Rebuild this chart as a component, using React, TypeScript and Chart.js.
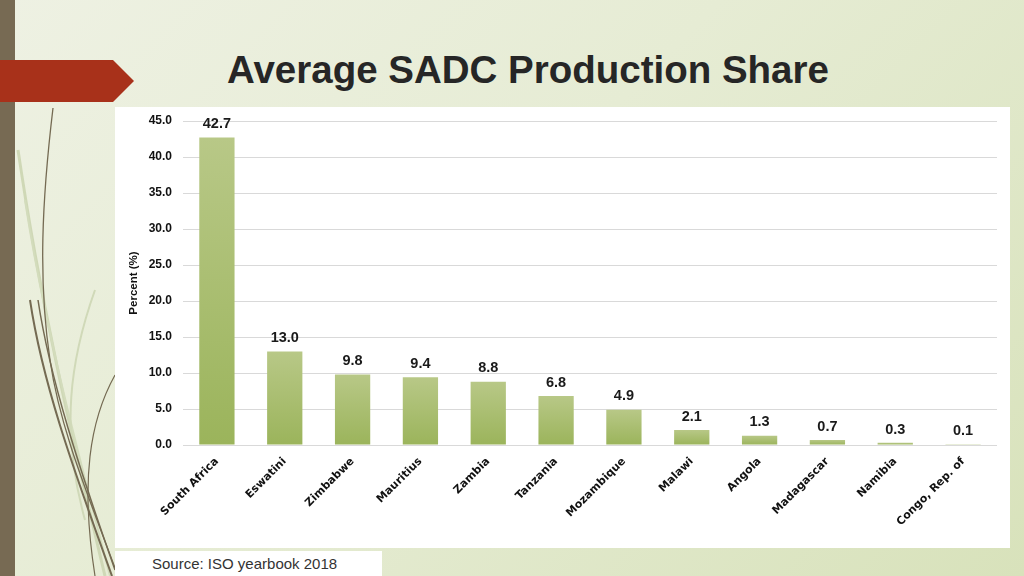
import React, { useEffect, useRef } from "react";
import { Chart, registerables } from "chart.js";

Chart.register(...registerables);

const countries = [
  "South Africa", "Eswatini", "Zimbabwe", "Mauritius", "Zambia", "Tanzania",
  "Mozambique", "Malawi", "Angola", "Madagascar", "Namibia", "Congo, Rep. of",
];
const shares = [42.7, 13.0, 9.8, 9.4, 8.8, 6.8, 4.9, 2.1, 1.3, 0.7, 0.3, 0.1];
const yTicks = [0, 5, 10, 15, 20, 25, 30, 35, 40, 45];
const titleText = "Average SADC Production Share";
const yTitle = "Percent (%)";
const sourceText = "Source: ISO yearbook 2018";

const valueLabels = {
  id: "valueLabels",
  afterDatasetsDraw(chart: any) {
    const ctx = chart.ctx;
    const meta = chart.getDatasetMeta(0);
    ctx.save();
    ctx.font = "bold 14.5px 'Liberation Sans', Arial, sans-serif";
    ctx.fillStyle = "#1a1a1a";
    ctx.textAlign = "center";
    ctx.textBaseline = "bottom";
    meta.data.forEach((bar: any, i: number) => {
      ctx.fillText(shares[i].toFixed(1), bar.x, bar.y - 6);
    });
    ctx.restore();
  },
};

function ChartBox() {
  const ref = useRef<HTMLCanvasElement>(null);
  useEffect(() => {
    if (!ref.current) return;
    const chart = new Chart(ref.current, {
      type: "bar",
      data: {
        labels: countries,
        datasets: [
          {
            data: shares,
            barPercentage: 0.52,
            categoryPercentage: 1,
            backgroundColor: (c: any) => {
              const ch = c.chart;
              const ys = ch.scales?.y;
              if (!ch.chartArea || !ys || c.parsed == null) return "#a8bd6e";
              const top = ys.getPixelForValue(c.parsed.y);
              const bottom = ys.getPixelForValue(0);
              if (!isFinite(top) || bottom - top < 1) return "#a8bd6e";
              const g = ch.ctx.createLinearGradient(0, top, 0, bottom);
              g.addColorStop(0, "#b8c887");
              g.addColorStop(1, "#9bb45b");
              return g;
            },
            borderWidth: 0,
          },
        ],
      },
      options: {
        animation: false,
        responsive: false,
        maintainAspectRatio: false,
        layout: { padding: { top: 14, right: 13, left: 12, bottom: 0 } },
        plugins: {
          legend: { display: false },
          tooltip: { enabled: false },
        },
        scales: {
          x: {
            grid: { display: false },
            border: { display: false },
            ticks: {
              maxRotation: 45,
              minRotation: 45,
              autoSkip: false,
              color: "#111",
              padding: 2,
              font: { family: "'DejaVu Sans', sans-serif", weight: "bold", size: 11 },
            },
            afterFit: (s: any) => {
              s.height = 103;
            },
          },
          y: {
            min: 0,
            max: 45,
            afterBuildTicks: (s: any) => {
              s.ticks = yTicks.map((v) => ({ value: v }));
            },
            grid: { color: "#d9d9d9", drawTicks: false, lineWidth: 1 },
            border: { display: false },
            ticks: {
              color: "#111",
              padding: 11,
              font: { family: "'Liberation Sans', Arial, sans-serif", weight: "bold", size: 12 },
              callback: (v: any) => Number(v).toFixed(1),
            },
            title: {
              display: true,
              text: yTitle,
              color: "#111",
              padding: { top: 0, bottom: 0 },
              font: { family: "'Liberation Sans', Arial, sans-serif", weight: "bold", size: 11.5 },
            },
            afterFit: (s: any) => {
              s.width = 56;
              s.paddingTop = 0;
              s.paddingBottom = 0;
            },
          },
        },
      },
      plugins: [valueLabels],
    });
    return () => chart.destroy();
  }, []);
  return <canvas ref={ref} width={895} height={441} style={{ width: 895, height: 441, display: "block" }} />;
}

export default function App() {
  return (
    <div
      style={{
        position: "fixed",
        left: 0,
        top: 0,
        width: 1024,
        height: 576,
        overflow: "hidden",
        background: "linear-gradient(135deg, #eef1e3 0%, #e6ecd4 45%, #d8e2bb 100%)",
        fontFamily: "'Liberation Sans', Arial, sans-serif",
      }}
    >
      <svg width={1024} height={576} style={{ position: "absolute", left: 0, top: 0 }}>
        <rect x={0} y={0} width={15} height={576} fill="#776a53" />
        <path d="M18 150 C 40 300, 70 430, 105 576" stroke="#cfd8b6" strokeWidth={3} fill="none" />
        <path d="M25 200 C 45 330, 80 460, 110 576" stroke="#d3dcbc" strokeWidth={2} fill="none" />
        <path d="M95 290 C 70 360, 60 430, 85 520" stroke="#d0d9b8" strokeWidth={2} fill="none" />
        <path d="M53 108 C 42 200, 38 280, 50 360 C 60 430, 90 500, 118 576" stroke="#746a52" strokeWidth={1.3} fill="none" />
        <path d="M30 300 C 42 380, 70 460, 112 576" stroke="#746a52" strokeWidth={2} fill="none" />
        <path d="M38 300 C 50 380, 80 470, 115 570" stroke="#746a52" strokeWidth={1.5} fill="none" />
        <path d="M115 375 C 90 420, 80 480, 95 576" stroke="#746a52" strokeWidth={1.2} fill="none" />
        <polygon points="0,60 113,60 134,81 113,102 0,102" fill="#a8311a" />
      </svg>
      <div
        style={{
          position: "absolute",
          left: 0,
          width: 1056,
          top: 45,
          textAlign: "center",
          fontWeight: "bold",
          fontSize: 38.5,
          lineHeight: "50px",
          color: "#262626",
        }}
      >
        {titleText}
      </div>
      <div style={{ position: "absolute", left: 115, top: 107, width: 895, height: 441, background: "#fff" }}>
        <ChartBox />
      </div>
      <div
        style={{
          position: "absolute",
          left: 115,
          top: 551,
          width: 267,
          height: 25,
          background: "#fff",
          fontSize: 15,
          lineHeight: "25px",
          color: "#333",
          paddingLeft: 37,
          boxSizing: "border-box",
        }}
      >
        {sourceText}
      </div>
    </div>
  );
}
